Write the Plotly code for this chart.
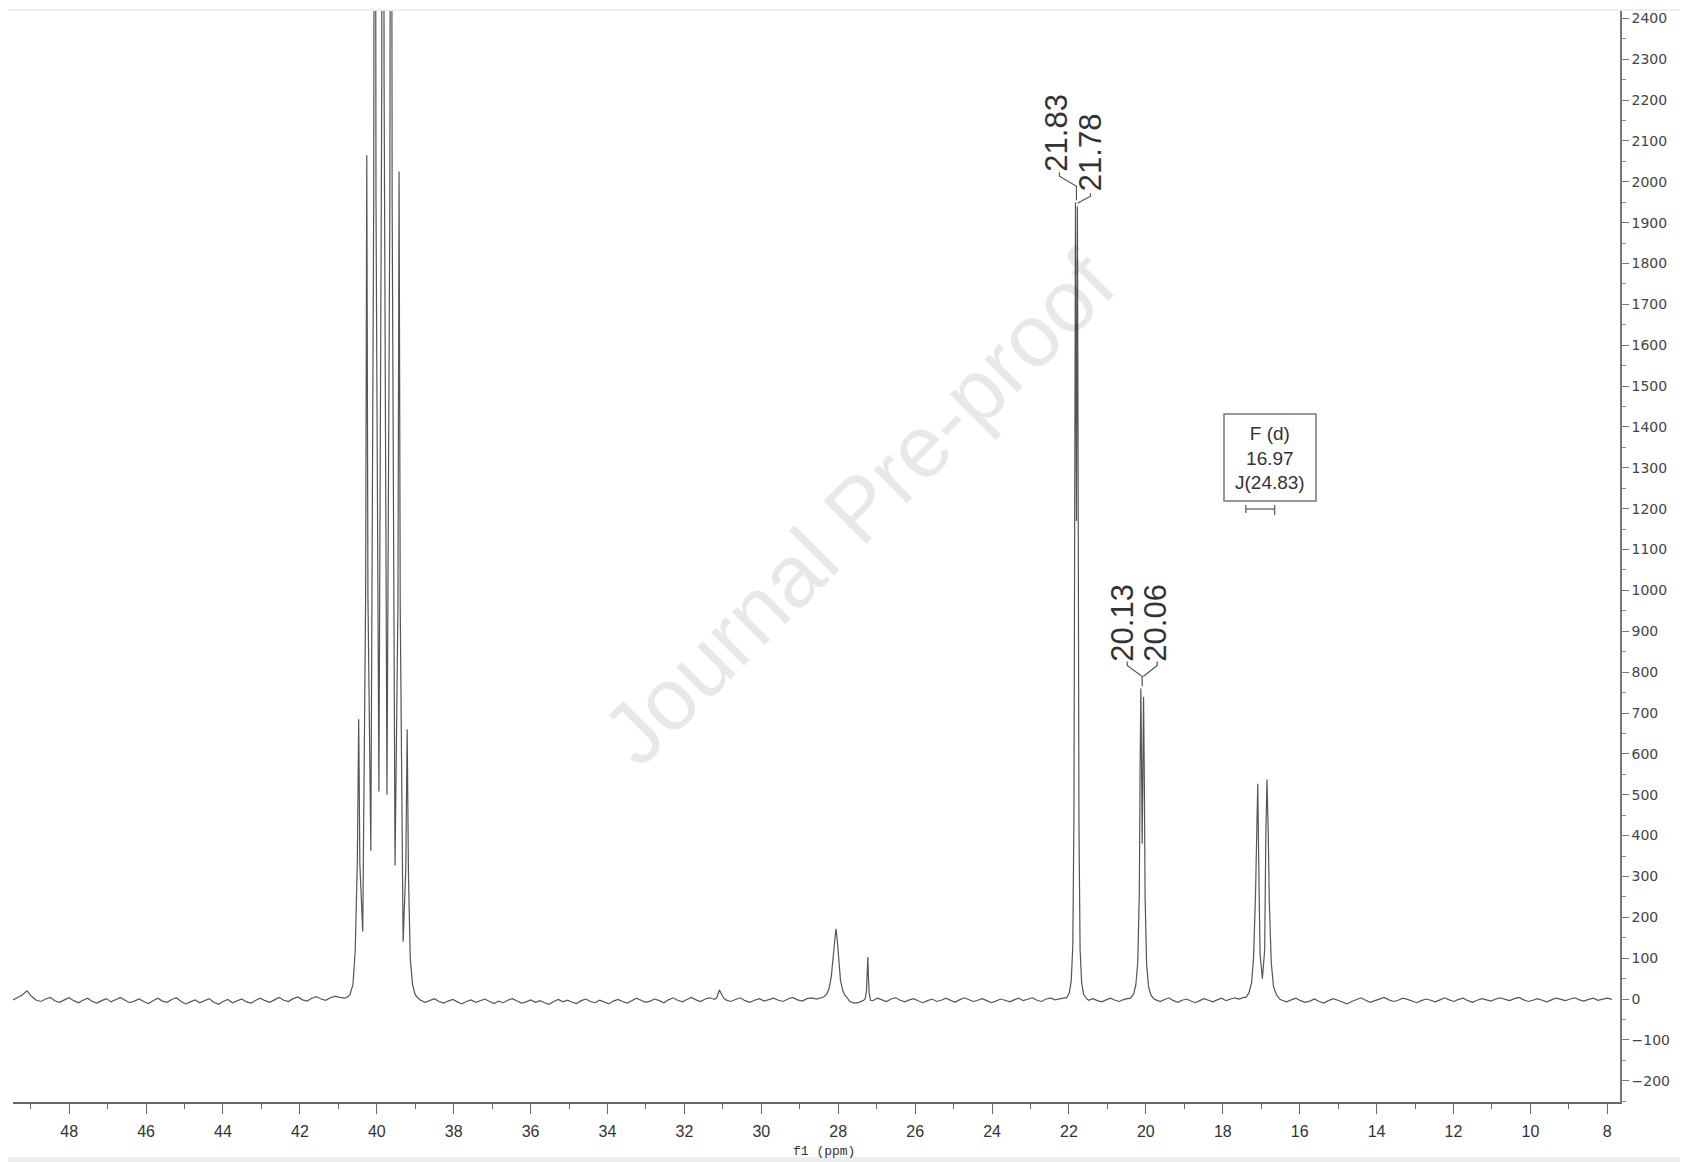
import numpy as np
import plotly.graph_objects as go

# ---------------- data (13C spectrum, ppm / intensity) ----------------
# baseline noise runs: (start ppm, end ppm) and hand-read intensities along the run
base_a_span = (49.46, 40.84)
base_a_vals = [-2, 3, 10, 20, 6, -3, -6, 0, 4, -5, -8, -2, 3, -4, -9, -3, 2, -6, -10, -4, 1, -7, -2, 4,
               -3, -9, -5, 0, -6, -11, -4, 2, -5, -8, -1, 3, -6, -12, -7, -2, -9, -4, 1, -8, -13, -6,
               -1, -9, -5, 0, -7, -10, -3, 2, -4, -8, -2, 4, -3, -6, 1, 5, -2, -5, 2, 6, 0, -3, 3, 7, 4, 2]

septet_ppm = [40.78, 40.70, 40.62, 40.56, 40.505, 40.47, 40.44, 40.365, 40.29, 40.26, 40.23, 40.155,
              40.08, 40.05, 40.02, 39.945, 39.87, 39.84, 39.81, 39.735, 39.66, 39.63, 39.60, 39.525,
              39.45, 39.42, 39.39, 39.315, 39.245, 39.21, 39.175, 39.13, 39.07, 39.00, 38.92]
septet_int = [4, 10, 35, 120, 340, 685, 330, 165, 980, 2065, 990, 363,
              1950, 4100, 1950, 508, 2250, 4750, 2250, 500, 1950, 4100, 1950, 327,
              960, 2025, 960, 140, 320, 660, 300, 100, 35, 10, 2]

base_c1_span = (38.86, 31.22)
base_c1_vals = [-3, -8, -4, 1, -6, -10, -5, -1, -7, -12, -6, -2, -8, -4, 0, -6, -11, -5, -9, -3, 1, -5,
                -10, -7, -2, -8, -4, -9, -13, -6, -1, -7, -3, -8, -11, -4, 0, -6, -9, -3, -7, -12, -5,
                -1, -6, -10, -4, 2, -3, -8, -5, 0, -4, -9, -2, 3, -3, -7, -1, 4, -2, -6, 0, 3, -1]

bump31_ppm = [31.16, 31.09, 31.04, 30.98]
bump31_int = [3, 22, 14, 2]

base_c2_span = (30.92, 28.44)
base_c2_vals = [-2, -6, -1, 3, -4, -8, -3, 1, -5, -2, 2, -3, -6, 0, 4, -2, -5, 1, 3, 0, 4]

peak28_ppm = [28.38, 28.30, 28.24, 28.18, 28.13, 28.09, 28.06, 28.03, 27.99, 27.94, 27.88, 27.82, 27.76]
peak28_int = [5, 12, 25, 55, 110, 160, 172, 150, 95, 45, 20, 8, 2]

base_d_span = (27.70, 27.34)
base_d_vals = [-6, -10, -8, -3]

peak27_ppm = [27.30, 27.265, 27.245, 27.23, 27.215, 27.195, 27.16]
peak27_int = [0, 20, 60, 103, 55, 15, -3]

base_e_span = (27.10, 22.12)
base_e_vals = [-4, 2, -2, -6, 0, 3, -3, -7, -2, 1, -5, -9, -4, 0, -6, -3, 2, -4, -8, -2, 3, -1, -6,
               -3, 1, -4, -9, -5, 0, -3, -7, -2, 2, -4, -1, 3, -3, -6, 0, 2, -2, 1, 3]

peak218_ppm = [22.06, 21.99, 21.94, 21.90, 21.87, 21.85, 21.83, 21.805, 21.78, 21.76, 21.74, 21.71,
               21.67, 21.62, 21.55]
peak218_int = [3, 15, 45, 130, 450, 1300, 1950, 1170, 1940, 1250, 430, 120, 40, 12, 2]

base_f_span = (21.49, 20.46)
base_f_vals = [-3, 1, -4, -7, -2, 2, -3, -6, -1, 2]

peak201_ppm = [20.40, 20.32, 20.26, 20.21, 20.17, 20.15, 20.13, 20.095, 20.06, 20.04, 20.02, 19.98,
               19.93, 19.87, 19.80]
peak201_int = [2, 12, 35, 90, 260, 560, 760, 380, 740, 540, 250, 85, 30, 10, 1]

base_g_span = (19.74, 17.46)
base_g_vals = [-2, -6, -1, 3, -4, -8, -3, 0, -5, -9, -4, 1, -3, -7, -2, 2, -4, -1, 3, 0, 4]

doublet_ppm = [17.40, 17.32, 17.25, 17.20, 17.15, 17.12, 17.09, 17.06, 17.03, 16.97, 16.91, 16.88,
               16.85, 16.82, 16.79, 16.74, 16.68, 16.60, 16.52]
doublet_int = [4, 15, 40, 100, 250, 420, 527, 300, 110, 50, 120, 400, 537, 420, 240, 90, 30, 10, 0]

base_h_span = (16.46, 7.88)
base_h_vals = [-3, -7, -2, 2, -4, -8, -5, 0, -6, -10, -4, 1, -3, -7, -12, -6, -2, 3, -3, -8, -4, 0,
               4, -2, -6, -3, 2, -1, -5, -9, -4, 0, -3, -7, -2, 3, -2, -6, -1, 2, -4, -8, -3, 1, -2,
               -5, 0, 3, -1, -4, 1, 4, -2, -6, -3, 1, -3, -7, -2, 2, -1, -4, 0, 3, -2, -5, -1, 2,
               -3, 0, 2, -1]

# peak labels
labels_218 = ["21.83", "21.78"]
labels_201 = ["20.13", "20.06"]
multiplet_text = ["F (d)", "16.97", "J(24.83)"]
multiplet_range = (17.40, 16.65)

x_title = "f1 (ppm)"
watermark = "Journal Pre-proof"

# ---------------- assemble trace ----------------
def run(span, vals):
    return list(np.linspace(span[0], span[1], len(vals))), list(vals)

pieces = [
    run(base_a_span, base_a_vals),
    (septet_ppm, septet_int),
    run(base_c1_span, base_c1_vals),
    (bump31_ppm, bump31_int),
    run(base_c2_span, base_c2_vals),
    (peak28_ppm, peak28_int),
    run(base_d_span, base_d_vals),
    (peak27_ppm, peak27_int),
    run(base_e_span, base_e_vals),
    (peak218_ppm, peak218_int),
    run(base_f_span, base_f_vals),
    (peak201_ppm, peak201_int),
    run(base_g_span, base_g_vals),
    (doublet_ppm, doublet_int),
    run(base_h_span, base_h_vals),
]
xs, ys = [], []
for px_, py_ in pieces:
    xs += list(px_)
    ys += list(py_)

# ---------------- layout geometry (page pixel coords; page body has an 8px margin) ----------------
PAGE_W, PAGE_H = 1688, 1162
BODY = 8
PL, PT = 13, 11          # plot area left / top on the page
PR, PB = 1620, 1102      # plot area right / bottom on the page
W, H = PAGE_W - BODY, PAGE_H - BODY
ML, MT = PL - BODY, PT - BODY
MR, MB = W - (PR - BODY), H - (PB - BODY)
XR = [49.46, 7.67]
YR = [-252, 2418]
PW = PR - PL
PH = PB - PT
PX_PPM = PW / (XR[0] - XR[1])
PX_INT = PH / (YR[1] - YR[0])

def px2ppm(px):
    return XR[0] - (px - PL) / PX_PPM

def py2int(py):
    return YR[1] - (py - PT) / PX_INT

def ppm2px(v):
    return PL + (XR[0] - v) * PX_PPM

def int2py(v):
    return PT + (YR[1] - v) * PX_INT

fig = go.Figure()
fig.add_trace(go.Scatter(x=xs, y=ys, mode="lines",
                         line=dict(color="#555555", width=1.2), hoverinfo="skip",
                         showlegend=False))

shapes = []
annotations = []

LINE = dict(color="#555555", width=1.2)
LABEL_FONT = dict(family="Liberation Sans, Arial", size=31, color="#333333")

def seg(points):
    path = "M " + " L ".join(f"{px2ppm(a):.5f},{py2int(b):.3f}" for a, b in points)
    shapes.append(dict(type="path", xref="x", yref="y", path=path, line=LINE))

def label(x_px, y_px, text):
    annotations.append(dict(x=px2ppm(x_px), y=py2int(y_px), xref="x", yref="y",
                            text=text, textangle=-90, showarrow=False, font=LABEL_FONT,
                            xanchor="center", yanchor="middle"))

# 21.8 group
g_x = ppm2px(float(np.mean([21.83, 21.78])))
g_y = int2py(max(peak218_int))
label(g_x - 20, g_y - 70, labels_218[0])
label(g_x + 13.5, g_y - 50, labels_218[1])
seg([(g_x - 17, g_y - 30), (g_x - 17, g_y - 26), (g_x, g_y - 16), (g_x, g_y - 2)])
seg([(g_x + 14, g_y - 9), (g_x + 14, g_y - 6), (g_x + 1, g_y + 1)])

# 20.1 group
h_x = ppm2px(float(np.mean([20.13, 20.06])))
h_y = int2py(max(peak201_int))
label(h_x - 20, h_y - 66, labels_201[0])
label(h_x + 13, h_y - 66, labels_201[1])
seg([(h_x - 15, h_y - 27), (h_x - 15, h_y - 23), (h_x, h_y - 12), (h_x, h_y - 2)])
seg([(h_x + 15, h_y - 27), (h_x + 15, h_y - 23), (h_x + 1, h_y - 12)])

# multiplet box
bx0, bx1, by0, by1 = 1224, 1316, 414, 501
shapes.append(dict(type="rect", xref="x", yref="y",
                   x0=px2ppm(bx0), x1=px2ppm(bx1), y0=py2int(by1), y1=py2int(by0),
                   line=dict(color="#777777", width=1.5), fillcolor="white"))
annotations.append(dict(x=px2ppm((bx0 + bx1) / 2), y=py2int((by0 + by1) / 2), xref="x", yref="y",
                        text="<br>".join(multiplet_text), showarrow=False, align="center",
                        font=dict(family="Liberation Sans, Arial", size=19, color="#333333"),
                        xanchor="center", yanchor="middle"))
seg([(ppm2px(multiplet_range[0]), 509), (ppm2px(multiplet_range[1]), 509)])
seg([(ppm2px(multiplet_range[0]), 505), (ppm2px(multiplet_range[0]), 513)])
seg([(ppm2px(multiplet_range[1]), 505), (ppm2px(multiplet_range[1]), 515)])

# watermark
annotations.append(dict(x=px2ppm(858), y=py2int(508), xref="x", yref="y",
                        text=watermark, textangle=-45, showarrow=False,
                        font=dict(family="Liberation Sans, Arial", size=88, color="rgba(0,0,0,0.09)"),
                        xanchor="center", yanchor="middle"))

# axis title
annotations.append(dict(x=(824 - PL) / PW, y=(PB - 1151) / PH, xref="paper", yref="paper",
                        text=x_title, showarrow=False,
                        font=dict(family="Liberation Mono, monospace", size=13, color="#333333"),
                        xanchor="center", yanchor="middle"))

# faint frame bars at the top and bottom of the page
shapes.append(dict(type="line", xref="paper", yref="paper", x0=-ML / PW, x1=(W - ML) / PW,
                   y0=1 + 1 / PH, y1=1 + 1 / PH, line=dict(color="#eeeeee", width=2)))
shapes.append(dict(type="rect", xref="paper", yref="paper", x0=-ML / PW, x1=(W - ML) / PW,
                   y0=-(1157 - PB) / PH, y1=-(PAGE_H - PB) / PH,
                   line=dict(width=0), fillcolor="#eeeeee", layer="below"))

fig.update_layout(
    width=W, height=H,
    margin=dict(l=ML, r=MR, t=MT, b=MB, pad=0),
    paper_bgcolor="white", plot_bgcolor="white",
    shapes=shapes, annotations=annotations,
    showlegend=False,
    xaxis=dict(range=XR, autorange=False, showgrid=False, zeroline=False,
               showline=True, linecolor="#666666", linewidth=1.5,
               ticks="outside", ticklen=10, tickwidth=1.2, tickcolor="#666666",
               tick0=0, dtick=2, ticklabelstandoff=4,
               tickfont=dict(family="Liberation Sans, Arial", size=16, color="#333333"),
               minor=dict(ticks="outside", dtick=1, tick0=0, ticklen=5, tickcolor="#666666", tickwidth=1)),
    yaxis=dict(range=YR, autorange=False, side="right", showgrid=False, zeroline=False,
               showline=True, linecolor="#777777", linewidth=1.5,
               ticks="outside", ticklen=7, tickwidth=1, tickcolor="#777777",
               tick0=0, dtick=100,
               tickfont=dict(family="DejaVu Sans, Liberation Sans", size=14, color="#444444"),
               minor=dict(ticks="outside", dtick=50, tick0=0, ticklen=4, tickcolor="#888888", tickwidth=1)),
)

fig.write_html("out.html")
